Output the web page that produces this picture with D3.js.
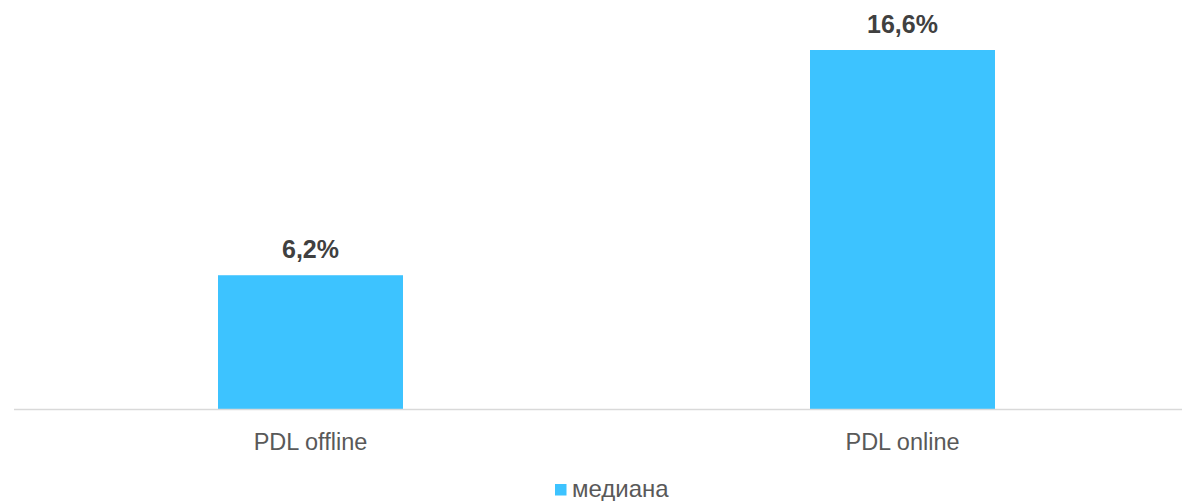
<!DOCTYPE html>
<html>
<head>
<meta charset="utf-8">
<script src="https://cdn.jsdelivr.net/npm/d3@7"></script>
<style>
  html, body { margin: 0; padding: 0; background: #fff; }
  svg { display: block; font-family: "Liberation Sans", Arial, sans-serif; }
</style>
</head>
<body>
<svg id="chart" width="1182" height="501"></svg>
<script>
const categories = ["PDL offline", "PDL online"];
const values = [6.2, 16.6];
const valueLabels = ["6,2%", "16,6%"];
const seriesName = "медиана";

const svg = d3.select("#chart");
const baseY = 409.5;

const x = d3.scaleBand()
  .domain(categories)
  .range([14.5, 1198.5])
  .paddingInner(0.6875)
  .paddingOuter(0.34375);

const y = d3.scaleLinear()
  .domain([0, 16.6])
  .range([baseY, 50]);

// bars
svg.selectAll("rect.bar")
  .data(values)
  .join("rect")
  .attr("class", "bar")
  .attr("x", (d, i) => x(categories[i]))
  .attr("y", d => y(d))
  .attr("width", x.bandwidth())
  .attr("height", d => baseY - y(d))
  .attr("fill", "#3DC3FF");

// axis
const axis = d3.axisBottom(x).tickSize(0).tickPadding(0);
const gAxis = svg.append("g").attr("transform", `translate(0,${baseY})`).call(axis);
gAxis.select(".domain").remove();
gAxis.append("line")
  .attr("x1", 14).attr("x2", 1182)
  .attr("y1", 0).attr("y2", 0)
  .attr("stroke", "#D9D9D9").attr("stroke-width", 1.5);
gAxis.selectAll(".tick text")
  .attr("y", 40)
  .attr("dy", 0)
  .attr("font-size", "23.5px")
  .attr("font-family", "'Liberation Sans', Arial, sans-serif")
  .attr("fill", "#595959");

// value labels
svg.selectAll("text.val")
  .data(values)
  .join("text")
  .attr("class", "val")
  .attr("x", (d, i) => x(categories[i]) + x.bandwidth() / 2)
  .attr("y", d => y(d) - 17)
  .attr("text-anchor", "middle")
  .attr("font-size", "25px")
  .attr("font-weight", "bold")
  .attr("fill", "#404040")
  .text((d, i) => valueLabels[i]);

// legend
const lg = svg.append("g");
lg.append("rect").attr("x", 555).attr("y", 484).attr("width", 11.5).attr("height", 11.5).attr("fill", "#3DC3FF");
lg.append("text").attr("x", 572).attr("y", 497)
  .attr("font-size", "24px").attr("fill", "#595959").text(seriesName);
</script>
</body>
</html>
